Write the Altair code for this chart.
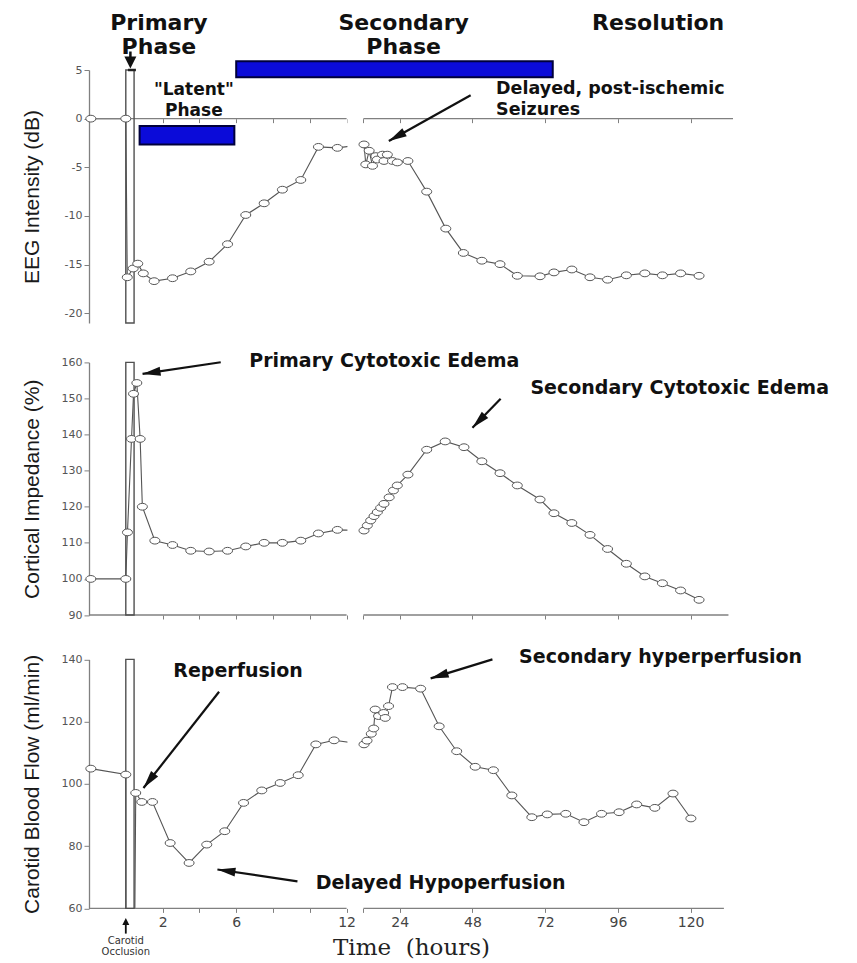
import altair as alt
import pandas as pd

# ---------------- data (time in hours) ----------------
eeg_t = [-1.9, 0.0, 0.08, 0.4, 0.65, 0.95, 1.54, 2.54, 3.53, 4.53, 5.53, 6.52, 7.52, 8.51, 9.51, 10.47, 11.5,
         12.2, 12.8, 13.9, 15.0, 16.1, 16.6, 18.3, 18.8, 19.9, 21.6, 23.2, 26.7,
         32.9, 39.2, 45.0, 51.1, 57.1, 62.8, 70.3, 74.9, 80.8, 86.8, 92.6, 98.8, 104.9, 110.7, 116.7, 122.8]
eeg_v = [0, 0, -16.3, -15.4, -14.9, -15.9, -16.7, -16.4, -15.7, -14.7, -12.9, -9.9, -8.7, -7.3, -6.3, -2.9, -3.0,
         -2.65, -4.7, -3.3, -4.85, -3.85, -4.2, -3.7, -4.35, -3.7, -4.35, -4.5, -4.35,
         -7.5, -11.3, -13.8, -14.6, -14.95, -16.15, -16.2, -15.8, -15.5, -16.3, -16.55, -16.1, -15.9, -16.1, -15.9, -16.15]

imp_t = [-1.9, 0.0, 0.09, 0.31, 0.42, 0.6, 0.78, 0.9, 1.58, 2.54, 3.53, 4.53, 5.53, 6.52, 7.52, 8.51, 9.51, 10.47, 11.5,
         12.2, 13.3, 14.4, 15.5, 16.6, 17.7, 18.8, 20.5, 21.9, 23.2, 26.7,
         32.9, 39.0, 45.2, 51.1, 57.1, 62.8, 70.3, 74.9, 80.8, 86.8, 92.6, 98.8, 104.9, 110.7, 116.7, 122.8]
imp_v = [100, 100, 112.9, 138.8, 151.3, 154.3, 138.8, 120.0, 110.6, 109.4, 107.8, 107.6, 107.8, 109.0, 110.0, 110.0, 110.6, 112.6, 113.6,
         113.4, 114.8, 116.2, 117.4, 118.5, 119.7, 120.8, 122.6, 124.5, 125.9, 128.9,
         135.8, 138.1, 136.5, 132.6, 129.3, 125.9, 122.0, 118.2, 115.5, 112.2, 108.3, 104.2, 100.7, 98.8, 96.8, 94.2]

cbf_t = [-1.9, 0.0, 0.02, 0.42, 0.54, 0.87, 1.45, 2.41, 3.44, 4.4, 5.38, 6.4, 7.39, 8.39, 9.37, 10.33, 11.32,
         12.2, 13.2, 14.6, 15.4, 15.9, 17.0, 18.7, 19.2, 20.3, 21.6, 24.9, 30.9,
         37.0, 42.8, 48.9, 54.9, 61.0, 67.6, 72.7, 78.8, 84.8, 90.6, 96.4, 102.2, 108.2, 114.2, 120.1]
cbf_v = [104.9, 103.0, 0, 0, 97.1, 94.2, 94.2, 81.0, 74.6, 80.5, 84.8, 93.9, 97.9, 100.3, 102.8, 112.7, 114.0,
         112.7, 113.9, 116.1, 117.8, 123.9, 121.8, 122.8, 121.2, 125.0, 131.1, 131.1, 130.6,
         118.5, 110.5, 105.5, 104.4, 96.3, 89.3, 90.2, 90.4, 87.7, 90.4, 90.9, 93.4, 92.3, 96.9, 88.9]

x_ticks = [2, 4, 6, 8, 10, 12, 12.001, 24, 48, 72, 96, 120]
x_labels = [2, 6, 12, 24, 48, 72, 96, 120]
eeg_ticks = [5, 0, -5, -10, -15, -20]
imp_ticks = [160, 150, 140, 130, 120, 110, 100, 90]
cbf_ticks = [140, 120, 100, 80, 60]

# ischaemia window (hours)
win_t, win_t2 = 0.0, 0.45

# phase bars (EEG panel)
bar_t = [6.0, 0.75]
bar_t2 = [74.5, 5.9]
bar_v = [4.26, -0.75]
bar_v2 = [5.9, -2.65]

# headings
head_txt = ["Primary", "Phase", "Secondary", "Phase", "Resolution"]
head_t = [1.8, 1.8, 25.3, 25.3, 109.3]
head_v = [9.85, 7.4, 9.85, 7.4, 9.85]

# annotations
eeg_ann_txt = ['"Latent"', "Phase"]
eeg_ann_t = [3.7, 3.7]
eeg_ann_v = [2.95, 0.8]
seiz_txt = ["Delayed, post-ischemic", "Seizures"]
seiz_t = [55.8, 55.8]
seiz_v = [3.05, 0.9]
imp_ann_txt = ["Primary Cytotoxic Edema", "Secondary Cytotoxic Edema"]
imp_ann_t = [18.9, 116.4]
imp_ann_v = [160.3, 152.8]
cbf_ann_txt = ["Reperfusion", "Delayed Hypoperfusion", "Secondary hyperperfusion"]
cbf_ann_t = [6.1, 37.5, 110.1]
cbf_ann_v = [136.2, 68.2, 140.7]
occ_txt = ["Carotid", "Occlusion"]
occ_t = [0.0, 0.0]
occ_v = [49.6, 45.9]

# arrows: tail (t, v) -> tip (t2, v2), head angle (deg)
eeg_arr = dict(t=[47.4], v=[2.4], t2=[20.4], v2=[-2.3], ang=[240.7])
imp_arr = dict(t=[5.16, 57.3], v=[160.05, 149.9], t2=[0.91, 48.0], v2=[156.8, 141.9], ang=[261.6, 224.3])
cbf_arr = dict(t=[5.07, 9.33, 54.6], v=[129.6, 68.7, 140.0], t2=[0.96, 4.98, 34.2], v2=[98.7, 72.5, 133.9],
               ang=[218.2, 278.3, 252.9])

# ---------------- styling ----------------
ELLIPSE = "M-1,0A1,0.68,0,1,0,1,0A1,0.68,0,1,0,-1,0Z"
ARROW = "M0,0L0.5,2L-0.5,2Z"
WIDE = "M0,0L1,2L-1,2Z"
W = 644
H1, H2, H3 = 253.0, 252.6, 253.6
SP = 39.4
BL, BR = 12.0, 12.001
LINE_C = "#555555"
AX_C = "#808080"
TXT_C = "#111111"

xs = alt.Scale(domain=[-2, BL, BR, 134], range=[0, 257.6, 274.4, W], nice=False, zero=False)


def df(**kw):
    return pd.DataFrame(kw)


def panel(series_t, series_v, ys, yax, xax, lo, hi, axis_end, H, clip=False, vmin=None, extra=None):
    X = alt.X("t:Q", scale=xs, axis=xax)
    Y = alt.Y("v:Q", scale=ys, axis=yax)
    data = df(t=series_t, v=series_v)
    ax_v = lo if lo >= 0 else 0
    L = []
    L.append(alt.Chart(data).mark_line(color=LINE_C, strokeWidth=1.1, clip=clip).encode(x=X, y=Y))
    L.append(alt.Chart(df(t=[BL + 0.00005], t2=[BR - 0.00005], v=[lo], v2=[hi]))
             .mark_rect(color="white").encode(x=X, x2="t2:Q", y=Y, y2="v2:Q"))
    L.append(alt.Chart(df(t=[-2, BR], t2=[BL, axis_end], v=[ax_v, ax_v]))
             .mark_rule(color=AX_C, strokeWidth=1.3).encode(x=X, x2="t2:Q", y=Y))
    L.append(alt.Chart(df(t=[win_t], t2=[win_t2], v=[lo], v2=[hi]))
             .mark_rect(fillOpacity=0, stroke="#505050", strokeWidth=1.4)
             .encode(x=X, x2="t2:Q", y=Y, y2="v2:Q"))
    pts = data if vmin is None else data[data.v >= vmin]
    L.append(alt.Chart(pts).mark_point(shape=ELLIPSE, size=100, filled=True, fill="white",
                                       stroke=LINE_C, strokeWidth=1, opacity=1).encode(x=X, y=Y))
    if extra:
        for ch in extra:
            L.append(ch(X, Y))
    return alt.layer(*L).properties(width=W, height=H)


def arrows(d):
    def f(X, Y):
        a = alt.Chart(df(**d)).mark_rule(color=TXT_C, strokeWidth=2.2).encode(x=X, y=Y, x2="t2:Q", y2="v2:Q")
        h = alt.Chart(df(t=d["t2"], v=d["v2"], ang=d["ang"])).mark_point(
            shape=ARROW, size=324, filled=True, color=TXT_C, opacity=1
        ).encode(x=X, y=Y, angle=alt.Angle("ang:Q", scale=None))
        return alt.layer(a, h)
    return f


def texts(labels, ts, vs, size=19, align="center", weight="bold", font="DejaVu Sans", color=TXT_C):
    def f(X, Y):
        return alt.Chart(df(t=ts, v=vs, label=labels)).mark_text(
            font=font, fontSize=size, fontWeight=weight, color=color, align=align, baseline="middle"
        ).encode(x=X, y=Y, text="label:N")
    return f


def bars(X, Y):
    return alt.Chart(df(t=bar_t, t2=bar_t2, v=bar_v, v2=bar_v2)).mark_rect(
        color="#0b0bd9", stroke="#00003c", strokeWidth=2
    ).encode(x=X, x2="t2:Q", y=Y, y2="v2:Q")


def phase_marker(X, Y):
    top = alt.Chart(df(t=[0.12], t2=[0.55], v=[5.0])).mark_rule(color="#222", strokeWidth=2.5).encode(
        x=X, x2="t2:Q", y=Y)
    stem = alt.Chart(df(t=[0.25], v=[6.9], v2=[6.0])).mark_rule(color=TXT_C, strokeWidth=2.5).encode(
        x=X, y=Y, y2="v2:Q")
    head = alt.Chart(df(t=[0.25], v=[5.15], ang=[180])).mark_point(
        shape=WIDE, size=144, filled=True, color=TXT_C, opacity=1
    ).encode(x=X, y=Y, angle=alt.Angle("ang:Q", scale=None))
    return alt.layer(top, stem, head)


def occ_marker(X, Y):
    stem = alt.Chart(df(t=[0.0], v=[51.9], v2=[55.5])).mark_rule(color=TXT_C, strokeWidth=1.8).encode(
        x=X, y=Y, y2="v2:Q")
    head = alt.Chart(df(t=[0.0], v=[56.9], ang=[0])).mark_point(
        shape=WIDE, size=49, filled=True, color=TXT_C, opacity=1
    ).encode(x=X, y=Y, angle=alt.Angle("ang:Q", scale=None))
    return alt.layer(stem, head)


yl_common = dict(labelExpr="datum.value + ''", tickSize=5, labelPadding=2, grid=False)

# ---- panel 1: EEG ----
ys1 = alt.Scale(domain=[-21, 5], nice=False, zero=False)
yax1 = alt.Axis(values=eeg_ticks, title="EEG Intensity (dB)", titlePadding=22, **yl_common)
xax1 = alt.Axis(values=x_ticks, labels=False, domain=False, tickSize=4, title=None, grid=False,
                offset=-(H1 * 21 / 26))
p1 = panel(eeg_t, eeg_v, ys1, yax1, xax1, -21, 5, 134, H1,
           extra=[bars, phase_marker, arrows(eeg_arr),
                  texts(head_txt, head_t, head_v, size=22),
                  texts(eeg_ann_txt, eeg_ann_t, eeg_ann_v, size=17),
                  texts(seiz_txt, seiz_t, seiz_v, size=17.5, align="left")])

# ---- panel 2: cortical impedance ----
ys2 = alt.Scale(domain=[90, 160], nice=False, zero=False)
yax2 = alt.Axis(values=imp_ticks, title="Cortical Impedance (%)", titlePadding=19, **yl_common)
xax2 = alt.Axis(values=x_ticks, labels=False, domain=False, tickSize=4, title=None, grid=False)
p2 = panel(imp_t, imp_v, ys2, yax2, xax2, 90, 160, 132.5, H2,
           extra=[arrows(imp_arr), texts(imp_ann_txt, imp_ann_t, imp_ann_v)])

# ---- panel 3: carotid blood flow ----
ys3 = alt.Scale(domain=[60, 140], range=[H3, 4.6], nice=False, zero=False)
yax3 = alt.Axis(values=cbf_ticks, title="Carotid Blood Flow (ml/min)", titlePadding=19, **yl_common)
xax3 = alt.Axis(values=x_ticks, domain=False, tickSize=4, grid=False, labelOverlap=False,
                labelExpr="indexof([2,6,12,24,48,72,96,120], datum.value) >= 0 ? datum.value + '' : ''",
                labelFont="DejaVu Sans", labelFontSize=14, labelColor="#444", labelPadding=3,
                title="Time\u00a0\u00a0(hours)", titleFont="DejaVu Serif", titleFontSize=23,
                titleFontWeight="normal", titleColor="#222", titlePadding=7)
p3 = panel(cbf_t, cbf_v, ys3, yax3, xax3, 60, 140, 131, H3, clip=True, vmin=60,
           extra=[arrows(cbf_arr), occ_marker,
                  texts(cbf_ann_txt, cbf_ann_t, cbf_ann_v),
                  texts(occ_txt, occ_t, occ_v, size=10, weight="normal", color="#333")])

chart = (
    alt.vconcat(p1, p2, p3, spacing=SP, bounds="flush")
    .resolve_scale(x="independent", y="independent")
    .properties(padding={"left": 13, "top": 3, "right": 5, "bottom": 0})
    .configure_view(stroke=None)
    .configure_axis(grid=False, domainColor=AX_C, domainWidth=1.3, tickColor=AX_C, tickWidth=1,
                    labelFont="DejaVu Sans", labelFontSize=11, labelColor="#555",
                    titleFont="Liberation Sans", titleFontSize=21,
                    titleFontWeight="normal", titleColor="#1a1a1a")
)

chart.save("out.html", embed_options={"renderer": "svg", "actions": False})
